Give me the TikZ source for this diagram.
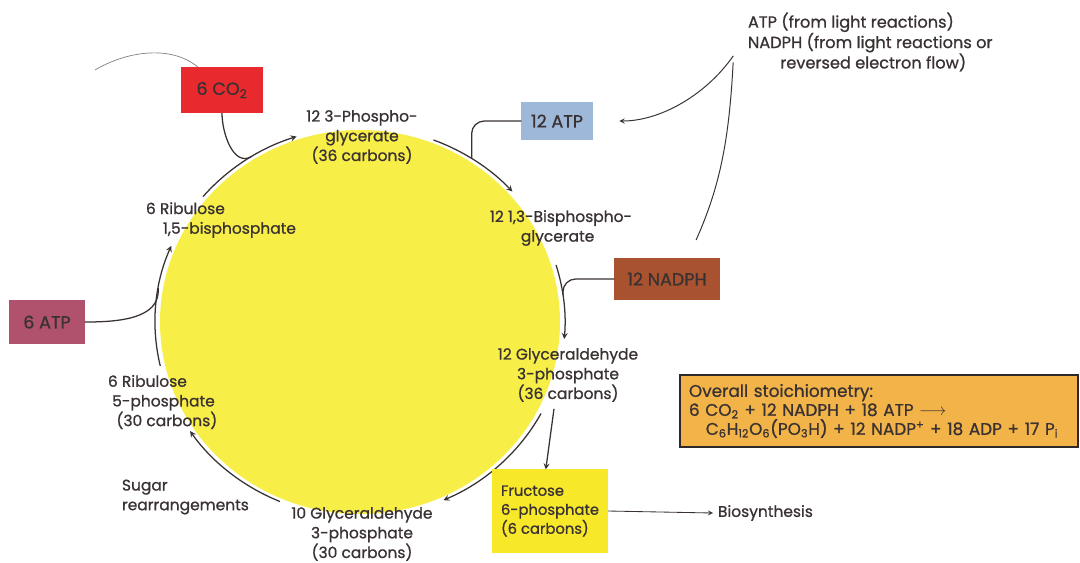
\documentclass[tikz,border=0pt]{standalone}
\usepackage{fontspec}
\setmainfont{Poppins}[RawFeature={embolden=0.9}]
\usetikzlibrary{arrows}

\definecolor{ink}{RGB}{58,50,50}
\definecolor{sunyellow}{RGB}{248,238,72}
\definecolor{co2red}{RGB}{232,42,46}
\definecolor{atpblue}{RGB}{157,184,216}
\definecolor{nadphbrown}{RGB}{168,82,48}
\definecolor{atppink}{RGB}{176,82,110}
\definecolor{fruyellow}{RGB}{248,232,42}
\definecolor{sumorange}{RGB}{242,180,72}

\begin{document}
\begin{tikzpicture}[x=0.025cm,y=0.025cm,>=stealth,
    every node/.style={font=\fontsize{11}{14}\selectfont,text=ink},
    cyc/.style={->,draw=ink,line width=0.9pt},
    feed/.style={draw=ink,line width=0.9pt,rounded corners=9pt},
    box/.style={inner sep=2pt,outer sep=0pt,font=\fontsize{12.5}{14}\selectfont}]
\useasboundingbox (0,0) rectangle (1080,-562);

% the cycle
\coordinate (cc) at (360,-322);
\fill[sunyellow] (cc) ellipse [x radius=200, y radius=192];
\foreach \a/\b in {140/108, 69/42, 17/-5, -28/-66, -113/-146, 193/157}{
    \draw[cyc] ([shift={(\a:205 and 195)}]cc) arc[start angle=\a, end angle=\b, x radius=205, y radius=195];
}
\coordinate (j1) at ([shift={(122:205 and 195)}]cc);
\coordinate (j2) at ([shift={(57:205 and 195)}]cc);
\coordinate (j3) at ([shift={(8:205 and 195)}]cc);
\coordinate (j4) at ([shift={(170:205 and 195)}]cc);

% inputs
\node[box,fill=co2red,minimum width=2.05cm,minimum height=1.15cm] (co2) at (222,-90) {6 CO\textsubscript{2}};
\node[box,fill=atpblue,minimum width=1.78cm,minimum height=0.95cm] (atp12) at (557,-121) {12 ATP};
\node[box,fill=nadphbrown,minimum width=2.63cm,minimum height=1.05cm] (nadph) at (667,-279) {12 NADPH};
\node[box,fill=atppink,minimum width=1.88cm,minimum height=1.08cm] (atp6) at (47,-322) {6 ATP};
\node[box,fill=fruyellow,minimum width=2.9cm,minimum height=2.08cm,align=left,font=\fontsize{10.5}{13.5}\selectfont] (fru) at (550,-511) {Fructose\\6-phosphate\\(6 carbons)};

\draw[feed] (co2.south) to[out=-90,in=210] (j1);
\draw[feed] (atp12.west) -| (j2);
\draw[feed] (nadph.west) -| (j3);
\draw[feed] (atp6.east) to[out=0,in=-85] (j4);
\coordinate (stray) at (95,-70);
\draw[gray,line width=0.5pt] (stray) .. controls (125,-52) and (170,-44) .. ([xshift=12]co2.north west);

% intermediates
\node[align=center] (pga) at (362,-137) {12 3-Phospho-\\glycerate\\(36 carbons)};
\node[align=left,anchor=west] (bpg) at (485,-228) {12 1,3-Bisphospho-\\\hspace*{2em}glycerate};
\node[align=center] (gap12) at (568,-375) {12 Glyceraldehyde\\3-phosphate\\(36 carbons)};
\node[align=center] (gap10) at (362,-534) {10 Glyceraldehyde\\3-phosphate\\(30 carbons)};
\node[align=left,anchor=west] (sugar) at (117,-497) {Sugar\\rearrangements};
\node[align=left,anchor=west] (ru5p) at (103,-402) {6 Ribulose\\\hspace*{3pt}5-phosphate\\\hspace*{6pt}(30 carbons)};
\node[align=left,anchor=west] (rubp) at (141,-220) {6 Ribulose\\\hspace*{1.1em}1,5-bisphosphate};

% light reactions and output
\node[align=left,anchor=west,font=\fontsize{11.5}{14.5}\selectfont] (light) at (743,-42) {ATP (from light reactions)\\NADPH (from light reactions or\\\hspace*{2em}reversed electron flow)};
\draw[->,draw=ink,line width=0.7pt,shorten <=12pt,shorten >=19pt] (light.west) to[out=235,in=0] (atp12.east);
\draw[draw=ink,line width=0.7pt,shorten >=14pt] ([xshift=-7,yshift=10]light.south west) to[out=-93,in=66] ([xshift=15]nadph.north);

\draw[feed,->] (gap12.south) ++(-14,-2) -- ([xshift=-3]fru.north);
\node[anchor=west] (bio) at (713,-513) {Biosynthesis};
\draw[->,draw=ink,line width=0.6pt] (fru.east) -- (bio.west);

% summary
\node[box,fill=sumorange,draw=ink!80!black,line width=1.5pt,minimum width=9.95cm,minimum height=1.8cm,align=left,text width=9.5cm,font=\fontsize{12}{13.5}\selectfont] (sum) at (879,-411)
  {Overall stoichiometry:\\
   6 CO\textsubscript{2} + 12 NADPH + 18 ATP $\longrightarrow$\\
   \hspace*{1em}C\textsubscript{6}H\textsubscript{12}O\textsubscript{6}(PO\textsubscript{3}H) + 12 NADP\textsuperscript{+} + 18 ADP + 17 P\textsubscript{i}};
\end{tikzpicture}
\end{document}
